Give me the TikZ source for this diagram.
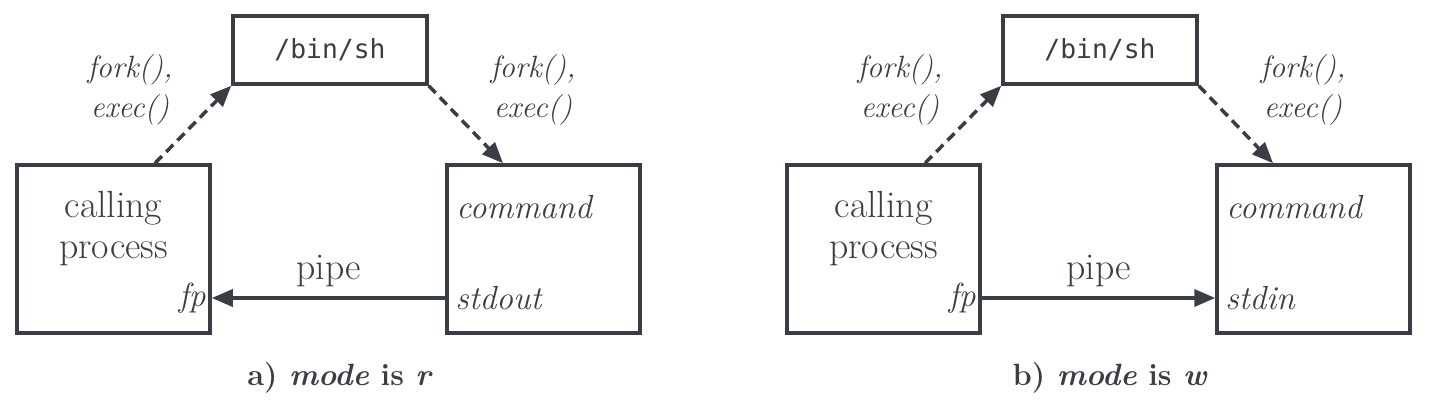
\documentclass[tikz,border=0pt]{standalone}
\usepackage{fontspec}
\setmonofont{DejaVu Sans Mono}
\usetikzlibrary{positioning, arrows.meta}

\definecolor{inkgray}{HTML}{3A3D43}

\begin{document}
\begin{tikzpicture}[
    every node/.style={text=inkgray},
    proc/.style={draw=inkgray, line width=2pt, minimum width=3.86cm, minimum height=3.36cm},
    shbox/.style={draw=inkgray, line width=2pt, minimum width=3.88cm, minimum height=1.36cm, font=\ttfamily\fontsize{15}{18}\selectfont},
    txt/.style={font=\fontsize{21.5}{23.3}\selectfont, align=center},
    itxt/.style={font=\itshape\fontsize{19}{23}\selectfont, align=center},
    captxt/.style={font=\bfseries\fontsize{17.5}{20}\selectfont},
    spawn/.style={draw=inkgray, line width=2pt, dash pattern=on 0.2cm off 0.12cm, -{Triangle[length=0.42cm, width=0.34cm]}},
    flow/.style={draw=inkgray, line width=2pt, -{Triangle[length=0.42cm, width=0.34cm]}}
]
    \useasboundingbox (0, 0) rectangle (28.58, 8.16);

    % a) mode is r
    \node[shbox] (shA) at (6.6, 7.16) {/bin/sh};
    \node[proc] (callA) at (2.27, 3.18) {};
    \node[proc] (cmdA) at (10.87, 3.18) {};
    \node[txt] (callTxtA) at ([yshift=0.4cm]callA.center) {calling\\process};
    \node[itxt, anchor=east] (fpA) at ([yshift=-0.98cm]callA.east) {fp};
    \node[itxt, anchor=west] (cmdTxtA) at ([xshift=0.1cm, yshift=0.84cm]cmdA.west) {command};
    \node[itxt, anchor=west] (outA) at ([xshift=0.08cm, yshift=-0.98cm]cmdA.west) {stdout};
    \node[itxt, font=\itshape\fontsize{17.5}{23}\selectfont] (forkA1) at (2.6, 6.36) {fork(),\\exec()};
    \node[itxt, font=\itshape\fontsize{17.5}{23}\selectfont] (forkA2) at (10.66, 6.36) {fork(),\\exec()};
    \node[captxt] (capA) at (6.8, 0.6) {a) \textit{mode} is \textit{r}};

    \draw[spawn] ([xshift=0.83cm]callA.north) -- (shA.south west);
    \draw[spawn] (shA.south east) -- ([xshift=-0.81cm]cmdA.north);
    \draw[flow] (cmdA.west |- outA) -- node[txt, above=2pt] (pipeA) {pipe} (callA.east |- outA);

    % b) mode is w
    \node[shbox] (shB) at (22.0, 7.16) {/bin/sh};
    \node[proc] (callB) at (17.67, 3.18) {};
    \node[proc] (cmdB) at (26.27, 3.18) {};
    \node[txt] (callTxtB) at ([yshift=0.4cm]callB.center) {calling\\process};
    \node[itxt, anchor=east] (fpB) at ([yshift=-0.98cm]callB.east) {fp};
    \node[itxt, anchor=west] (cmdTxtB) at ([xshift=0.1cm, yshift=0.84cm]cmdB.west) {command};
    \node[itxt, anchor=west] (inB) at ([xshift=0.08cm, yshift=-0.98cm]cmdB.west) {stdin};
    \node[itxt, font=\itshape\fontsize{17.5}{23}\selectfont] (forkB1) at (18.0, 6.36) {fork(),\\exec()};
    \node[itxt, font=\itshape\fontsize{17.5}{23}\selectfont] (forkB2) at (26.06, 6.36) {fork(),\\exec()};
    \node[captxt] (capB) at (22.2, 0.6) {b) \textit{mode} is \textit{w}};

    \draw[spawn] ([xshift=0.83cm]callB.north) -- (shB.south west);
    \draw[spawn] (shB.south east) -- ([xshift=-0.81cm]cmdB.north);
    \draw[flow] (callB.east |- fpB) -- node[txt, above=2pt] (pipeB) {pipe} (cmdB.west |- fpB);
\end{tikzpicture}
\end{document}
